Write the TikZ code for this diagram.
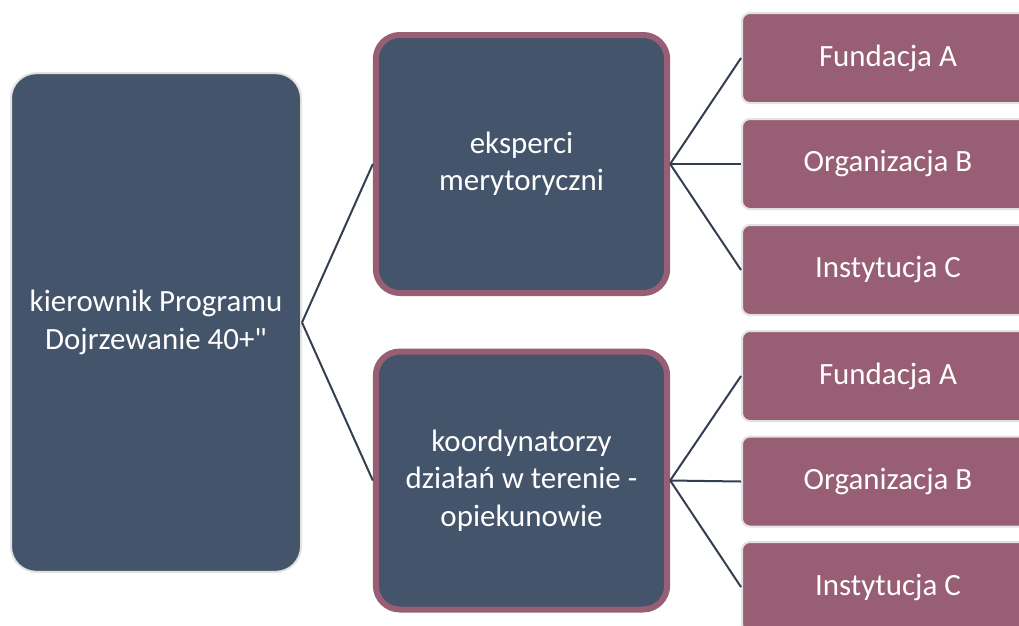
\documentclass[tikz,border=0pt]{standalone}
\usepackage{fontspec}
\setmainfont{Carlito}
\newfontfamily\rawfont{Carlito}
\definecolor{navy}{HTML}{44546A}
\definecolor{mauve}{HTML}{975E74}
\definecolor{linkc}{HTML}{333F50}
\definecolor{rim}{HTML}{E2E2E2}
\begin{document}
\begin{tikzpicture}[x=0.75pt,y=-0.75pt,
  txt/.style={text=white,align=center,font=\fontsize{23.2}{28}\selectfont,inner sep=0pt},
  rootbox/.style={txt,draw=rim,line width=1.5pt,fill=navy,rounded corners=19pt,
    minimum width=217.5pt,minimum height=374pt},
  midbox/.style={txt,draw=mauve,line width=4.5pt,fill=navy,rounded corners=18pt,
    minimum width=218.5pt,minimum height=193.5pt},
  leafbox/.style={txt,draw=rim,line width=1.5pt,fill=mauve,rounded corners=6pt,
    minimum width=219pt,minimum height=67.5pt},
  link/.style={draw=linkc,line width=1.5pt}]
\useasboundingbox (0,0) rectangle (1019,625);
\clip (0,0) rectangle (1019,625);
\node[rootbox] (root) at (156,322.5) {kierownik Programu\\Dojrzewanie 40+{\rawfont"}};
\node[midbox] (exp) at (521.5,164) {eksperci\\merytoryczni};
\node[midbox] (koo) at (521.5,480.5) {koordynatorzy\\działań w terenie -\\opiekunowie};
\node[leafbox] (a1) at (888,58) {Fundacja A};
\node[leafbox] (b1) at (888,164) {Organizacja B};
\node[leafbox] (c1) at (888,270) {Instytucja C};
\node[leafbox] (a2) at (888,376) {Fundacja A};
\node[leafbox] (b2) at (888,481.5) {Organizacja B};
\node[leafbox] (c2) at (888,587) {Instytucja C};
\draw[link] (root.east) -- (exp.west);
\draw[link] (root.east) -- (koo.west);
\draw[link] (exp.east) -- (a1.west);
\draw[link] (exp.east) -- (b1.west);
\draw[link] (exp.east) -- (c1.west);
\draw[link] (koo.east) -- (a2.west);
\draw[link] (koo.east) -- (b2.west);
\draw[link] (koo.east) -- (c2.west);
\end{tikzpicture}
\end{document}
